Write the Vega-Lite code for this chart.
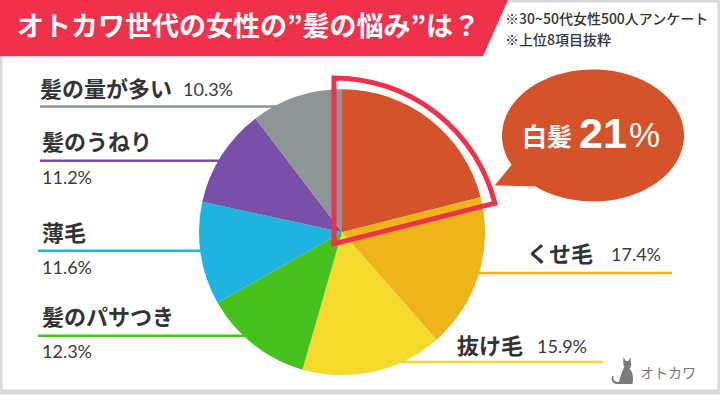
{
  "$schema": "https://vega.github.io/schema/vega-lite/v6.json",
  "width": 720,
  "height": 405,
  "autosize": {"type": "fit", "contains": "padding"},
  "padding": 0,
  "background": "white",
  "config": {
    "view": {"stroke": "#d9d9d9", "strokeWidth": 5},
    "axis": {"disable": true},
    "font": "Noto Sans CJK JP"
  },
  "datasets": {
    "pie": [
      {"item": "白髪", "pct": 21.0, "ord": 1},
      {"item": "くせ毛", "pct": 17.4, "ord": 2},
      {"item": "抜け毛", "pct": 15.9, "ord": 3},
      {"item": "髪のパサつき", "pct": 12.3, "ord": 4},
      {"item": "薄毛", "pct": 11.6, "ord": 5},
      {"item": "髪のうねり", "pct": 11.2, "ord": 6},
      {"item": "髪の量が多い", "pct": 10.3, "ord": 7}
    ],
    "leaders": [
      {"item": "髪の量が多い", "lx": 40, "lx2": 300, "ly": 110},
      {"item": "髪のうねり", "lx": 40, "lx2": 250, "ly": 166},
      {"item": "薄毛", "lx": 38, "lx2": 230, "ly": 259},
      {"item": "髪のパサつき", "lx": 38, "lx2": 270, "ly": 347},
      {"item": "くせ毛", "lx": 460, "lx2": 672, "ly": 282},
      {"item": "抜け毛", "lx": 380, "lx2": 603, "ly": 374}
    ],
    "namesLeft": [
      {"label": "髪の量が多い", "lx": 40, "ly": 93},
      {"label": "髪のうねり", "lx": 42, "ly": 148},
      {"label": "薄毛", "lx": 42, "ly": 242},
      {"label": "髪のパサつき", "lx": 42, "ly": 329},
      {"label": "くせ毛", "lx": 527, "ly": 263},
      {"label": "抜け毛", "lx": 457, "ly": 359}
    ],
    "pcts": [
      {"label": "10.3%", "lx": 183, "ly": 94},
      {"label": "11.2%", "lx": 42, "ly": 185},
      {"label": "11.6%", "lx": 42, "ly": 278},
      {"label": "12.3%", "lx": 42, "ly": 365},
      {"label": "17.4%", "lx": 611, "ly": 264},
      {"label": "15.9%", "lx": 537, "ly": 360}
    ],
    "banner": [
      {"bx": 0, "top": 0, "bot": 58},
      {"bx": 483, "top": 0, "bot": 58},
      {"bx": 508, "top": 0, "bot": 0}
    ]
  },
  "layer": [
    {
      "data": {"name": "banner"},
      "mark": {"type": "area", "orient": "vertical", "color": "#F0314C", "interpolate": "linear"},
      "encoding": {
        "x": {"field": "bx", "type": "quantitative", "scale": {"domain": [0, 720], "nice": false, "zero": false}},
        "y": {"field": "top", "type": "quantitative", "scale": {"domain": [0, 405], "reverse": true, "nice": false, "zero": false}},
        "y2": {"field": "bot"}
      }
    },
    {
      "data": {"values": [{"t": "オトカワ世代の女性の”髪の悩み”は？"}]},
      "mark": {"type": "text", "align": "left", "baseline": "middle", "fontSize": 27, "fontWeight": "bold", "color": "white"},
      "encoding": {
        "x": {"datum": 17, "type": "quantitative"},
        "y": {"datum": 29, "type": "quantitative"},
        "text": {"field": "t"}
      }
    },
    {
      "data": {"values": [{"t": "※30~50代女性500人アンケート", "ly": 21}, {"t": "※上位8項目抜粋", "ly": 42}]},
      "mark": {"type": "text", "align": "left", "baseline": "middle", "fontSize": 14, "fontWeight": 500, "color": "#333333"},
      "encoding": {
        "x": {"datum": 505, "type": "quantitative"},
        "y": {"field": "ly", "type": "quantitative"},
        "text": {"field": "t"}
      }
    },
    {
      "data": {"name": "leaders"},
      "mark": {"type": "rule", "strokeWidth": 2.5},
      "encoding": {
        "x": {"field": "lx", "type": "quantitative"},
        "x2": {"field": "lx2"},
        "y": {"field": "ly", "type": "quantitative"},
        "color": {"field": "item", "type": "nominal", "legend": null,
          "scale": {"domain": ["白髪", "くせ毛", "抜け毛", "髪のパサつき", "薄毛", "髪のうねり", "髪の量が多い"],
                    "range": ["#D5532A", "#EEB419", "#F4DA2C", "#47C11D", "#1FB3E0", "#7950A8", "#8D9597"]}}
      }
    },
    {
      "data": {"name": "pie"},
      "mark": {"type": "arc", "radius": 143, "stroke": null},
      "encoding": {
        "x": {"datum": 342, "type": "quantitative"},
        "y": {"datum": 240, "type": "quantitative"},
        "theta": {"field": "pct", "type": "quantitative", "stack": true},
        "order": {"field": "ord", "type": "quantitative"},
        "color": {"field": "item", "type": "nominal", "legend": null}
      }
    },
    {
      "data": {"name": "pie"},
      "mark": {"type": "arc", "radius": 166, "fill": "transparent", "stroke": "#F0314C", "strokeWidth": 5, "strokeJoin": "miter"},
      "encoding": {
        "x": {"datum": 334, "type": "quantitative"},
        "y": {"datum": 252, "type": "quantitative"},
        "theta": {"field": "pct", "type": "quantitative", "stack": true},
        "order": {"field": "ord", "type": "quantitative"},
        "strokeOpacity": {"condition": {"test": "datum.item === '白髪'", "value": 1}, "value": 0}
      }
    },
    {
      "data": {"values": [{"k": "bubble"}]},
      "mark": {"type": "point", "filled": true, "opacity": 1, "color": "#D5532A", "size": 33124,
               "shape": "M-1,0 A1,0.725 0 1,1 1,0 A1,0.725 0 1,1 -1,0 Z"},
      "encoding": {
        "x": {"datum": 593, "type": "quantitative"},
        "y": {"datum": 140, "type": "quantitative"}
      }
    },
    {
      "data": {"values": [{"k": "tail"}]},
      "mark": {"type": "point", "filled": true, "opacity": 1, "color": "#D5532A", "size": 33124,
               "shape": "M-0.86,0.28 L-1.08,0.55 L-0.6,0.56 Z"},
      "encoding": {
        "x": {"datum": 593, "type": "quantitative"},
        "y": {"datum": 140, "type": "quantitative"}
      }
    },
    {
      "data": {"values": [{"t": "白髪"}]},
      "mark": {"type": "text", "align": "left", "baseline": "alphabetic", "fontSize": 25, "fontWeight": "bold", "color": "white"},
      "encoding": {
        "x": {"datum": 522, "type": "quantitative"},
        "y": {"datum": 151, "type": "quantitative"},
        "text": {"field": "t"}
      }
    },
    {
      "data": {"values": [{"t": "21"}]},
      "mark": {"type": "text", "align": "left", "baseline": "alphabetic", "fontSize": 43, "fontWeight": "bold", "font": "Liberation Sans", "color": "white"},
      "encoding": {
        "x": {"datum": 579, "type": "quantitative"},
        "y": {"datum": 153, "type": "quantitative"},
        "text": {"field": "t"}
      }
    },
    {
      "data": {"values": [{"t": "%"}]},
      "mark": {"type": "text", "align": "left", "baseline": "alphabetic", "fontSize": 35, "fontWeight": "normal", "font": "Liberation Sans", "color": "white"},
      "encoding": {
        "x": {"datum": 629, "type": "quantitative"},
        "y": {"datum": 152, "type": "quantitative"},
        "text": {"field": "t"}
      }
    },
    {
      "data": {"name": "namesLeft"},
      "mark": {"type": "text", "align": "left", "baseline": "middle", "fontSize": 22, "fontWeight": "bold", "color": "#333333"},
      "encoding": {
        "x": {"field": "lx", "type": "quantitative"},
        "y": {"field": "ly", "type": "quantitative"},
        "text": {"field": "label"}
      }
    },
    {
      "data": {"name": "pcts"},
      "mark": {"type": "text", "align": "left", "baseline": "middle", "fontSize": 18, "fontWeight": "normal", "font": "Lato", "color": "#3a3a3a"},
      "encoding": {
        "x": {"field": "lx", "type": "quantitative"},
        "y": {"field": "ly", "type": "quantitative"},
        "text": {"field": "label"}
      }
    },
    {
      "data": {"values": [{"k": "cat"}]},
      "mark": {"type": "point", "filled": true, "opacity": 1, "color": "#7a7a7a", "size": 720,
               "shape": "M0.05,-1 L0.2,-0.72 L0.4,-0.72 L0.55,-1 L0.6,-0.55 C0.65,-0.35 0.55,-0.25 0.5,-0.15 C0.75,0.15 0.8,0.6 0.7,1 L-0.35,1 C-0.75,1 -0.95,0.75 -0.8,0.4 L-0.68,0.42 C-0.8,0.7 -0.6,0.85 -0.3,0.85 C-0.2,0.4 -0.05,0.0 0.1,-0.3 C0.0,-0.45 0.0,-0.7 0.05,-1 Z"},
      "encoding": {
        "x": {"datum": 623, "type": "quantitative"},
        "y": {"datum": 383, "type": "quantitative"}
      }
    },
    {
      "data": {"values": [{"t": "オトカワ"}]},
      "mark": {"type": "text", "align": "left", "baseline": "middle", "fontSize": 14, "fontWeight": "normal", "letterSpacing": 7, "color": "#777777"},
      "encoding": {
        "x": {"datum": 640, "type": "quantitative"},
        "y": {"datum": 386, "type": "quantitative"},
        "text": {"field": "t"}
      }
    }
  ]
}
